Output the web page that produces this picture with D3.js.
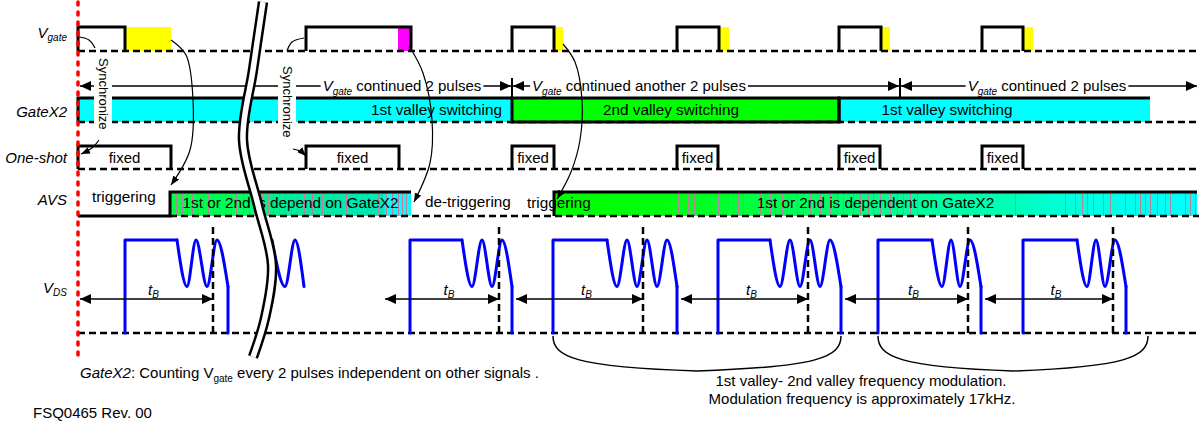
<!DOCTYPE html>
<html>
<head>
<meta charset="utf-8">
<script src="https://cdn.jsdelivr.net/npm/d3@7/dist/d3.min.js"></script>
<style>
  body { margin: 0; background: #fff; }
  svg { display: block; font-family: "Liberation Sans", Arial, sans-serif; }
</style>
</head>
<body>
<svg id="chart" width="1199" height="423"></svg>
<script>
// time counted from the sync (red) line, in drawing units
const vgatePulses = [[0, 47], [228, 333], [434, 476], [599, 641], [761, 803], [904, 945]];
const vgateBlanks = [[47, 93], [320, 333], [476, 485], [641, 651], [803, 812], [945, 955]];
const vgateBlankKind = ['blank', 'detrigger', 'blank', 'blank', 'blank', 'blank'];
const gateSegments = [[0, 434], [434, 761], [761, 1072]];
const gateModes = ['1st', '2nd', '1st'];
const gateLabels = ['1st valley switching', '2nd valley switching', '1st valley switching'];
const gateLabelAt = [424, 593, 869];
const shotPulses = [[0, 93], [228, 321], [434, 476], [599, 640], [761, 802], [904, 945]];
const avsBoxes = [[92, 333], [476, 1119]];
const avsBoxText = ['1st or 2nd is depend on GateX2', '1st or 2nd is dependent on GateX2'];
const avsStripes = [98, 104, 109, 114, 119, 125, 130, 135, 141, 147, 153, 158, 165, 171, 176, 184, 190, 195, 201, 207,
  213, 219, 226, 234, 244, 255, 268, 279, 289, 300, 308, 314, 320, 324, 328,
  600, 610, 616, 621, 640, 655, 660, 665, 682, 687, 692, 697, 704, 709, 719, 725, 732, 742, 752, 759, 765, 775, 782,
  790, 795, 802, 812, 819, 825, 832, 839, 937, 987, 997, 1004, 1009, 1015, 1025, 1032, 1047, 1057, 1062, 1067, 1072,
  1079, 1087, 1092, 1107, 1112, 1117];
// VDS: rise, end of flat top, ringing extrema (valley, peak, ...), end of ringing, drop
const vdsRise = [47, null, 332, 475, 640, 800, 945];
const vdsFlatEnd = [99, 194, 384, 529, 692, 854, 999];
const vdsRing = [[109, 118, 129, 139], [207, 217], [394, 404, 414, 424], [539, 549, 559, 569, 579, 589],
  [702, 712, 722, 732, 742, 752], [864, 873, 882, 892], [1009, 1018, 1027, 1037]];
const vdsRingEnd = [150, 226, 434, 599, 763, 903, 1048];
const vdsDrop = [150, null, 434, 599, 763, 903, 1048];
const tbStart = [0, 305, 436, 601, 765, 905];
const tbEnd = [135, 421, 565, 730, 890, 1035];
const spans = [[0, 434], [434, 822], [822, 1119]];
const spanText = ['continued 2 pulses', 'continued another 2 pulses', 'continued 2 pulses'];
const spanLabelAt = [324, 561, 969];
const braces = [[475, 763], [800, 1070]];

const svg = d3.select('#chart');
const x = d3.scaleLinear().domain([0, 1121]).range([78, 1199]);
const lvl = {
  vgate: d3.scaleLinear().domain([0, 1]).range([51, 27]),
  gate: d3.scaleLinear().domain([0, 1]).range([122, 98]),
  shot: d3.scaleLinear().domain([0, 1]).range([169, 146]),
  avs: d3.scaleLinear().domain([0, 1]).range([216, 192]),
  vds: d3.scaleLinear().domain([0, 1]).range([333, 240])
};
const xEnd = 1199;
const line = d3.line();

// markers
const defs = svg.append('defs');
function marker(id, len, wid) {
  defs.append('marker')
    .attr('id', id)
    .attr('viewBox', `0 0 ${len} ${wid}`)
    .attr('refX', len).attr('refY', wid / 2)
    .attr('markerWidth', len).attr('markerHeight', wid)
    .attr('markerUnits', 'userSpaceOnUse')
    .attr('orient', 'auto-start-reverse')
    .append('path').attr('d', `M0,0L${len},${wid / 2}L0,${wid}Z`).attr('fill', '#000');
}
marker('big', 11, 10);
marker('small', 9, 7);

function gradient(id, stops) {
  const g = defs.append('linearGradient').attr('id', id);
  stops.forEach(s => g.append('stop').attr('offset', s[0]).attr('stop-color', s[1]));
}
gradient('avs0', [[0, '#00ff40'], [0.3, '#00ff60'], [0.5, '#00eea0'], [0.88, '#00e8b8'], [0.9, '#00ffff'], [1, '#00ffff']]);
gradient('avs1', [[0, '#00ff00'], [0.18, '#00ff10'], [0.35, '#00ff50'], [0.55, '#00ff99'], [0.7, '#00ffb4'], [0.8, '#00ffdd'], [1, '#00ffff']]);

// fills
const fills = svg.append('g');
fills.selectAll('rect.blank').data(vgateBlanks).join('rect')
  .attr('x', d => x(d[0])).attr('y', lvl.vgate(1))
  .attr('width', d => x(d[1]) - x(d[0])).attr('height', lvl.vgate(0) - lvl.vgate(1))
  .attr('fill', (d, i) => vgateBlankKind[i] === 'blank' ? '#ffff00' : '#ff00ff');

fills.selectAll('rect.gate').data(gateSegments).join('rect')
  .attr('x', d => x(d[0])).attr('y', lvl.gate(1))
  .attr('width', d => x(d[1]) - x(d[0])).attr('height', lvl.gate(0) - lvl.gate(1))
  .attr('fill', (d, i) => gateModes[i] === '1st' ? '#00ffff' : '#00ff00');

fills.selectAll('rect.avs').data(avsBoxes).join('rect')
  .attr('x', d => x(d[0])).attr('y', lvl.avs(1))
  .attr('width', d => x(d[1]) - x(d[0])).attr('height', lvl.avs(0) - lvl.avs(1))
  .attr('fill', (d, i) => `url(#avs${i})`);

fills.selectAll('line.stripe').data(avsStripes).join('line')
  .attr('x1', d => x(d) + 0.5).attr('x2', d => x(d) + 0.5)
  .attr('y1', lvl.avs(1)).attr('y2', lvl.avs(0))
  .attr('stroke', '#b4849c').attr('stroke-width', 1);

// dashed baselines
const dashed = { stroke: '#000', 'stroke-width': 2.5, 'stroke-dasharray': '7,4', fill: 'none' };
function applyAttrs(sel, o) { Object.keys(o).forEach(k => sel.attr(k, o[k])); return sel; }
const bases = [[0, lvl.vgate(0)], [0, lvl.gate(0)], [0, lvl.shot(0)], [avsBoxes[0][0], lvl.avs(0)], [0, lvl.vds(0)]];
bases.forEach(b => {
  applyAttrs(svg.append('line').attr('x1', x(b[0])).attr('x2', xEnd).attr('y1', b[1]).attr('y2', b[1]), dashed);
});

// digital signals
const sig = svg.append('g').attr('fill', 'none').attr('stroke', '#000').attr('stroke-width', 3).attr('stroke-linejoin', 'miter');
function pulse(p, y) {
  return line([[x(p[0]), y(0)], [x(p[0]), y(1)], [x(p[1]), y(1)], [x(p[1]), y(0)]]);
}
sig.selectAll('path.vg').data(vgatePulses).join('path').attr('d', d => pulse(d, lvl.vgate));
sig.selectAll('path.os').data(shotPulses).join('path').attr('d', d => pulse(d, lvl.shot));

gateSegments.forEach((s, i) => {
  if (gateModes[i] === '2nd') {
    sig.append('rect').attr('x', x(s[0])).attr('y', lvl.gate(1))
      .attr('width', x(s[1]) - x(s[0])).attr('height', lvl.gate(0) - lvl.gate(1));
  } else {
    sig.append('path').attr('d', line([[x(s[0]), lvl.gate(0)], [x(s[0]), lvl.gate(1)], [x(s[1]), lvl.gate(1)]]));
  }
});

// AVS outline
sig.append('path').attr('d', line([[x(0), lvl.avs(0)], [x(avsBoxes[0][0]), lvl.avs(0)], [x(avsBoxes[0][0]), lvl.avs(1)], [x(avsBoxes[0][1]), lvl.avs(1)]]));
sig.append('path').attr('d', line([[x(avsBoxes[1][0]), lvl.avs(0)], [x(avsBoxes[1][0]), lvl.avs(1)], [x(avsBoxes[1][1]), lvl.avs(1)]]));

// texts inside rows
const txt = svg.append('g').attr('font-size', 15.3).attr('fill', '#000');
gateLabels.forEach((t, i) => {
  txt.append('text').attr('x', x(gateLabelAt[i])).attr('y', 115)
    .attr('text-anchor', i === 0 ? 'end' : 'middle').text(t);
});
shotPulses.forEach(p => {
  txt.append('text').attr('x', (x(p[0]) + x(p[1])) / 2).attr('y', 163).attr('font-size', 15)
    .attr('text-anchor', 'middle').text('fixed');
});
avsBoxes.forEach((b, i) => {
  txt.append('text').attr('x', (x(b[0]) + x(b[1])) / 2).attr('y', 208).attr('text-anchor', 'middle').text(avsBoxText[i]);
});
txt.append('text').attr('x', x(14)).attr('y', 202).text('triggering');
txt.append('text').attr('x', x(347)).attr('y', 207).text('de-triggering');
txt.append('text').attr('x', x(449)).attr('y', 208).text('triggering');

// VDS waveforms
const vds = svg.append('g').attr('fill', 'none').attr('stroke', '#0000ff').attr('stroke-width', 3)
  .attr('stroke-linecap', 'round').attr('stroke-linejoin', 'round');
const ring = d3.line().curve(d3.curveMonotoneX);
vdsRing.forEach((r, i) => {
  if (vdsRise[i] !== null) {
    vds.append('path').attr('d', line([[x(vdsRise[i]), lvl.vds(0)], [x(vdsRise[i]), lvl.vds(1)], [x(vdsFlatEnd[i]), lvl.vds(1)]]));
  }
  const pts = [[x(vdsFlatEnd[i]), lvl.vds(1)]];
  r.forEach((t, j) => pts.push([x(t), lvl.vds(j % 2 === 0 ? 0.5 : 1)]));
  pts.push([x(vdsRingEnd[i]), lvl.vds(0.5)]);
  vds.append('path').attr('d', ring(pts));
  if (vdsDrop[i] !== null) {
    vds.append('path').attr('d', line([[x(vdsDrop[i]), lvl.vds(0.5)], [x(vdsDrop[i]), lvl.vds(0)]]));
  }
});

// tB
const tb = svg.append('g');
tbEnd.forEach(t => {
  applyAttrs(tb.append('line').attr('x1', x(t)).attr('x2', x(t)).attr('y1', 227).attr('y2', lvl.vds(0)), dashed);
});
tbStart.forEach((s, i) => {
  tb.append('line').attr('x1', x(s) + 2).attr('x2', x(tbEnd[i]))
    .attr('y1', 299).attr('y2', 299).attr('stroke', '#000').attr('stroke-width', 1.5)
    .attr('marker-start', 'url(#big)').attr('marker-end', 'url(#big)');
  const t = tb.append('text').attr('x', (x(s) + x(tbEnd[i])) / 2 + 8).attr('y', 295)
    .attr('text-anchor', 'middle').attr('font-size', 15);
  t.append('tspan').attr('font-style', 'italic').text('t');
  t.append('tspan').attr('font-style', 'italic').attr('font-size', 10).attr('dy', 3).text('B');
});

// spans of Vgate pulses
const sp = svg.append('g');
spans.forEach((s, i) => {
  sp.append('line').attr('x1', x(s[0]) + (i === 0 ? 2 : 1)).attr('x2', x(s[1]) - (i === spans.length - 1 ? 0 : 1))
    .attr('y1', 86).attr('y2', 86).attr('stroke', '#000').attr('stroke-width', 1.5)
    .attr('marker-start', 'url(#big)').attr('marker-end', 'url(#big)');
  if (i > 0) {
    sp.append('line').attr('x1', x(s[0])).attr('x2', x(s[0])).attr('y1', 78).attr('y2', 97)
      .attr('stroke', '#000').attr('stroke-width', 2);
  }
  const g = sp.append('g');
  const t = g.append('text').attr('x', x(spanLabelAt[i])).attr('y', 91).attr('text-anchor', 'middle').attr('font-size', 15);
  t.append('tspan').attr('font-style', 'italic').text('V');
  t.append('tspan').attr('font-style', 'italic').attr('font-size', 10).attr('dy', 4).text('gate');
  t.append('tspan').attr('dy', -4).text(' ' + spanText[i]);
  const b = t.node().getBBox();
  g.insert('rect', () => t.node()).attr('x', b.x - 2).attr('y', b.y + 2).attr('width', b.width + 4).attr('height', b.height - 4).attr('fill', '#fff');
});

// Synchronize notes
const syncAt = [[99, 58], [283, 66]];
syncAt.forEach(p => {
  const g = svg.append('g').attr('transform', `translate(${p[0]},${p[1]}) rotate(90)`);
  const t = g.append('text').attr('font-size', 13).text('Synchronize');
  const b = t.node().getBBox();
  g.insert('rect', () => t.node()).attr('x', b.x - 1).attr('y', b.y - 1).attr('width', b.width + 2).attr('height', b.height + 3).attr('fill', '#fff');
});

// cause arrows
const curve = d3.line().curve(d3.curveCatmullRom);
const notes = svg.append('g').attr('fill', 'none').attr('stroke', '#000').attr('stroke-width', 1.2);
const causeCurves = [
  [[171, 40], [186, 55], [193, 100], [190, 150], [171, 185]],
  [[409, 46], [423, 73], [432, 120], [430, 163], [414, 202]],
  [[563, 44], [575, 62], [582, 100], [580, 140], [571, 172], [557, 199]],
  [[99, 140], [92, 148], [81, 154]],
  [[293, 149], [300, 151], [306, 156]]
];
causeCurves.forEach(c => notes.append('path').attr('d', curve(c)).attr('marker-end', 'url(#small)'));
const syncArcs = [[[79, 37], [89, 40], [95, 48]], [[287, 51], [292, 42], [304, 38]]];
syncArcs.forEach(c => notes.append('path').attr('d', curve(c)));

// braces
braces.forEach(b => {
  const a = x(b[0]), e = x(b[1]), m = (a + e) / 2;
  notes.append('path').attr('stroke-width', 1.5)
    .attr('d', `M${a},336 C${a},357 ${a + 22},367 ${m},371 C${e - 22},367 ${e},357 ${e},336`);
});

// break symbol
const brk = [[263, 2], [253, 70], [243, 140], [258, 205], [272, 265], [265, 318], [253, 357]];
svg.append('path').attr('d', curve(brk)).attr('fill', 'none').attr('stroke', '#000').attr('stroke-width', 10.5);
svg.append('path').attr('d', curve(brk)).attr('fill', 'none').attr('stroke', '#fff').attr('stroke-width', 5.5);

// sync line
svg.append('line').attr('x1', x(0)).attr('x2', x(0)).attr('y1', 2).attr('y2', 357)
  .attr('stroke', '#ff0000').attr('stroke-width', 3.5).attr('stroke-dasharray', '3,7').attr('stroke-linecap', 'round');

// row labels
const lab = svg.append('g').attr('font-size', 15).attr('font-style', 'italic').attr('text-anchor', 'end');
function subLabel(y, main, sub, dy) {
  const t = lab.append('text').attr('x', 67).attr('y', y);
  t.append('tspan').text(main);
  t.append('tspan').attr('font-size', 10).attr('dy', dy).text(sub);
}
subLabel(38, 'V', 'gate', 3);
lab.append('text').attr('x', 67).attr('y', 117).text('GateX2');
lab.append('text').attr('x', 67).attr('y', 163).text('One-shot');
lab.append('text').attr('x', 67).attr('y', 205).text('AVS');
subLabel(293, 'V', 'DS', 3);

// footnotes
const foot = svg.append('g').attr('font-size', 15);
const f1 = foot.append('text').attr('x', 80).attr('y', 378);
f1.append('tspan').attr('font-style', 'italic').text('GateX2');
f1.append('tspan').text(': Counting V');
f1.append('tspan').attr('font-size', 10).attr('dy', 4).text('gate');
f1.append('tspan').attr('dy', -4).text(' every 2 pulses independent on other signals .');
foot.append('text').attr('x', 861).attr('y', 386).attr('text-anchor', 'middle').text('1st valley- 2nd valley frequency modulation.');
foot.append('text').attr('x', 862).attr('y', 404).attr('text-anchor', 'middle').text('Modulation frequency is approximately 17kHz.');
foot.append('text').attr('x', 33).attr('y', 418).text('FSQ0465 Rev. 00');
</script>
</body>
</html>
